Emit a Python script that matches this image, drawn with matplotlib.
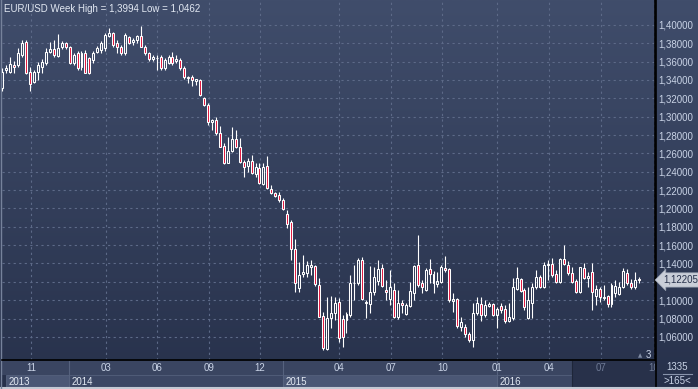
import numpy as np
import matplotlib
matplotlib.use("Agg")
import matplotlib.pyplot as plt
import matplotlib.patches as patches
import matplotlib.transforms as mtransforms
from matplotlib.lines import Line2D

plt.rcParams['font.family'] = ['Liberation Sans', 'DejaVu Sans']

# --- weekly EUR/USD candles ---
opens = [
    1.3313, 1.3509, 1.3490, 1.3564, 1.3564, 1.3673, 1.3817, 1.3490, 1.3381, 1.3490,
    1.3545, 1.3582, 1.3709, 1.3735, 1.3662, 1.3756, 1.3800, 1.3756, 1.3589, 1.3691,
    1.3538, 1.3691, 1.3637, 1.3618, 1.3709, 1.3727, 1.3746, 1.3880, 1.3909, 1.3800,
    1.3756, 1.3691, 1.3865, 1.3817, 1.3836, 1.3880, 1.3763, 1.3691, 1.3626, 1.3640,
    1.3654, 1.3528, 1.3589, 1.3654, 1.3610, 1.3618, 1.3528, 1.3419, 1.3429, 1.3392,
    1.3400, 1.3201, 1.3128, 1.2945, 1.2964, 1.2819, 1.2681, 1.2499, 1.2626, 1.2754,
    1.2666, 1.2506, 1.2463, 1.2520, 1.2372, 1.2444, 1.2266, 1.2463, 1.2209, 1.2165,
    1.2147, 1.2092, 1.1939, 1.1856, 1.1555, 1.1130, 1.1285, 1.1293, 1.1365, 1.1373,
    1.1165, 1.0828, 1.0465, 1.0803, 1.0857, 1.0984, 1.0792, 1.0784, 1.0839, 1.1184,
    1.1184, 1.1438, 1.0972, 1.0959, 1.1092, 1.1212, 1.1348, 1.1111, 1.1010, 1.1111,
    1.0820, 1.0966, 1.0850, 1.0937, 1.1082, 1.1384, 1.1184, 1.1111, 1.1337, 1.1285,
    1.1176, 1.1201, 1.1348, 1.1337, 1.0994, 1.1010, 1.0711, 1.0711, 1.0631, 1.0566,
    1.0857, 1.0958, 1.0839, 1.0937, 1.0958, 1.0839, 1.0937, 1.0901, 1.0776, 1.0803,
    1.1119, 1.1228, 1.1111, 1.0803, 1.0973, 1.1147, 1.1256, 1.1140, 1.1384, 1.1394,
    1.1285, 1.1201, 1.1446, 1.1384, 1.1300, 1.1212, 1.1092, 1.1348, 1.1239, 1.1310,
    1.1046, 1.1119, 1.1021, 1.1046, 1.0959, 1.1075, 1.1067, 1.1140, 1.1300, 1.1191,
    1.1140, 1.1228]
highs = [
    1.3534, 1.3564, 1.3647, 1.3610, 1.3746, 1.3836, 1.3836, 1.3545, 1.3509, 1.3600,
    1.3626, 1.3746, 1.3817, 1.3836, 1.3901, 1.3828, 1.3817, 1.3771, 1.3698, 1.3719,
    1.3719, 1.3727, 1.3654, 1.3719, 1.3771, 1.3828, 1.3909, 1.3964, 1.3927, 1.3836,
    1.3782, 1.3909, 1.3880, 1.3855, 1.3891, 1.3994, 1.3782, 1.3709, 1.3673, 1.3673,
    1.3673, 1.3640, 1.3673, 1.3709, 1.3673, 1.3640, 1.3553, 1.3444, 1.3455, 1.3411,
    1.3408, 1.3218, 1.3146, 1.2972, 1.3000, 1.2899, 1.2710, 1.2782, 1.2884, 1.2855,
    1.2765, 1.2528, 1.2547, 1.2583, 1.2499, 1.2499, 1.2499, 1.2572, 1.2256, 1.2183,
    1.2183, 1.2110, 1.1983, 1.1874, 1.1664, 1.1420, 1.1493, 1.1430, 1.1438, 1.1384,
    1.1239, 1.0875, 1.1038, 1.1046, 1.1038, 1.1021, 1.0839, 1.0875, 1.1275, 1.1384,
    1.1456, 1.1474, 1.1002, 1.1373, 1.1365, 1.1438, 1.1394, 1.1221, 1.1329, 1.1184,
    1.1111, 1.1002, 1.0966, 1.1201, 1.1384, 1.1711, 1.1221, 1.1348, 1.1446, 1.1321,
    1.1310, 1.1384, 1.1482, 1.1348, 1.1075, 1.1021, 1.0813, 1.0740, 1.0656, 1.0966,
    1.1038, 1.1038, 1.1002, 1.0984, 1.0973, 1.0929, 1.0966, 1.0948, 1.0966, 1.1239,
    1.1365, 1.1239, 1.1130, 1.1147, 1.1184, 1.1329, 1.1275, 1.1420, 1.1438, 1.1456,
    1.1329, 1.1456, 1.1602, 1.1430, 1.1365, 1.1228, 1.1365, 1.1409, 1.1310, 1.1409,
    1.1165, 1.1147, 1.1165, 1.1057, 1.1184, 1.1221, 1.1201, 1.1348, 1.1337, 1.1228,
    1.1310, 1.1256]
lows = [
    1.3280, 1.3473, 1.3473, 1.3480, 1.3545, 1.3654, 1.3465, 1.3283, 1.3364, 1.3400,
    1.3473, 1.3564, 1.3691, 1.3654, 1.3654, 1.3735, 1.3735, 1.3574, 1.3564, 1.3509,
    1.3509, 1.3473, 1.3465, 1.3582, 1.3691, 1.3691, 1.3719, 1.3872, 1.3763, 1.3691,
    1.3673, 1.3673, 1.3792, 1.3782, 1.3800, 1.3756, 1.3673, 1.3610, 1.3610, 1.3509,
    1.3509, 1.3509, 1.3574, 1.3564, 1.3582, 1.3509, 1.3408, 1.3364, 1.3335, 1.3346,
    1.3226, 1.3117, 1.2910, 1.2855, 1.2800, 1.2666, 1.2484, 1.2492, 1.2619, 1.2656,
    1.2499, 1.2346, 1.2400, 1.2375, 1.2346, 1.2266, 1.2256, 1.2209, 1.2157, 1.2121,
    1.2074, 1.1983, 1.1784, 1.1438, 1.1092, 1.1092, 1.1256, 1.1256, 1.1275, 1.1155,
    1.0813, 1.0462, 1.0462, 1.0694, 1.0784, 1.0548, 1.0493, 1.0639, 1.0820, 1.1002,
    1.1165, 1.1002, 1.0803, 1.0857, 1.1057, 1.1165, 1.1140, 1.1002, 1.0948, 1.0803,
    1.0792, 1.0857, 1.0839, 1.0929, 1.1002, 1.1140, 1.1082, 1.1103, 1.1184, 1.1082,
    1.1147, 1.1191, 1.1310, 1.0984, 1.0875, 1.0694, 1.0667, 1.0602, 1.0548, 1.0493,
    1.0839, 1.0776, 1.0820, 1.0922, 1.0828, 1.0694, 1.0857, 1.0755, 1.0765, 1.0784,
    1.1111, 1.1089, 1.0893, 1.0792, 1.0803, 1.1119, 1.1130, 1.1130, 1.1221, 1.1256,
    1.1191, 1.1191, 1.1384, 1.1275, 1.1184, 1.1082, 1.1082, 1.1228, 1.1147, 1.0893,
    1.0948, 1.0984, 1.1002, 1.0929, 1.0929, 1.1038, 1.1057, 1.1130, 1.1165, 1.1119,
    1.1119, 1.1191]
closes = [
    1.3487, 1.3528, 1.3571, 1.3538, 1.3698, 1.3800, 1.3480, 1.3356, 1.3490, 1.3564,
    1.3600, 1.3709, 1.3735, 1.3673, 1.3746, 1.3800, 1.3756, 1.3589, 1.3673, 1.3528,
    1.3691, 1.3480, 1.3480, 1.3698, 1.3746, 1.3800, 1.3891, 1.3909, 1.3782, 1.3756,
    1.3691, 1.3891, 1.3807, 1.3836, 1.3880, 1.3763, 1.3691, 1.3626, 1.3647, 1.3636,
    1.3528, 1.3618, 1.3647, 1.3582, 1.3626, 1.3528, 1.3429, 1.3436, 1.3400, 1.3408,
    1.3237, 1.3128, 1.2945, 1.2964, 1.2819, 1.2673, 1.2499, 1.2626, 1.2754, 1.2673,
    1.2509, 1.2448, 1.2517, 1.2383, 1.2455, 1.2274, 1.2455, 1.2219, 1.2172, 1.2136,
    1.2092, 1.1990, 1.1830, 1.1555, 1.1184, 1.1275, 1.1307, 1.1384, 1.1384, 1.1176,
    1.0820, 1.0476, 1.0803, 1.0864, 1.0966, 1.0585, 1.0602, 1.0849, 1.1184, 1.1190,
    1.1438, 1.1010, 1.0983, 1.1092, 1.1249, 1.1337, 1.1155, 1.1092, 1.1147, 1.0813,
    1.0966, 1.0948, 1.0948, 1.1103, 1.1373, 1.1165, 1.1140, 1.1329, 1.1285, 1.1184,
    1.1212, 1.1365, 1.1329, 1.1002, 1.1010, 1.0719, 1.0762, 1.0631, 1.0566, 1.0864,
    1.0966, 1.0839, 1.0948, 1.0958, 1.0839, 1.0901, 1.0893, 1.0776, 1.0820, 1.1140,
    1.1239, 1.1103, 1.0923, 1.0997, 1.1140, 1.1256, 1.1147, 1.1384, 1.1394, 1.1275,
    1.1201, 1.1446, 1.1394, 1.1293, 1.1201, 1.1092, 1.1359, 1.1239, 1.1264, 1.1092,
    1.1119, 1.1032, 1.1038, 1.0959, 1.1165, 1.1155, 1.1147, 1.1321, 1.1184, 1.1140,
    1.1221, 1.12205]

# x axis: candle index; month / year starts expressed as candle positions
month_labels = ['11', '03', '06', '09', '12', '04', '07', '10', '01', '04', '07', '10']
month_pos = [7.2, 26.2, 39.1, 52.2, 65.1, 85.1, 98.3, 111.2, 125.1, 138.2, 151.3, 164.7]
year_labels = ['2013', '2014', '2015', '2016']
year_start = [0.9, 16.9, 70.9, 125.0]
price_ticks = [1.06, 1.08, 1.10, 1.12, 1.14, 1.16, 1.18, 1.20, 1.22, 1.24, 1.26,
               1.28, 1.30, 1.32, 1.34, 1.36, 1.38, 1.40]

W, H = 698, 389
fig = plt.figure(figsize=(W / 100, H / 100), dpi=100)

def fx(px):
    return px / W

def fy(py):
    return 1 - py / H

# gradient background for whole chart
bg = fig.add_axes([0, 0, 1, 1], zorder=0)
top = np.array([0x40, 0x4d, 0x6b]) / 255
bot = np.array([0x27, 0x31, 0x4b]) / 255
t = np.linspace(0, 1, 256)[:, None]
grad = (top[None, :] * (1 - t) + bot[None, :] * t)[:, None, :]
bg.imshow(grad, aspect='auto', extent=[0, 1, 0, 1])
bg.set_xlim(0, 1)
bg.set_ylim(0, 1)
bg.axis('off')

# main price panel
ax = fig.add_axes([fx(2), fy(360), fx(653), 360 / H], zorder=2)
ax.patch.set_alpha(0)
x = np.arange(len(closes))
o = np.array(opens)
c = np.array(closes)
hi = np.array(highs)
lo = np.array(lows)
body_top = np.maximum(o, c)
body_bot = np.minimum(o, c)
up = c >= o

ax.vlines(x, body_top, hi, color='white', linewidth=0.8, zorder=3)
ax.vlines(x, lo, body_bot, color='white', linewidth=0.8, zorder=3)
ax.bar(x, np.maximum(body_top - body_bot, 0.0003), bottom=body_bot, width=0.5,
       color=['none' if u else '#e0143c' for u in up],
       edgecolor='white', linewidth=0.75, zorder=4)

ax.set_xlim(-0.1, 165.0)
ax.set_ylim(1.4272 - 360 * 0.00109, 1.4272)

ax.set_xticks(month_pos)
ax.set_yticks(price_ticks)
ax.set_yticklabels(['' if abs(v - 1.12) < 1e-9 else f"{v:.5f}".replace('.', ',')
                    for v in price_ticks])
ax.yaxis.tick_right()
ax.tick_params(axis='y', length=0, pad=2.5, labelsize=7, labelcolor='#c9d3e6')
ax.tick_params(axis='x', length=0, labelbottom=False)
ax.grid(True, color='#5d6a88', linestyle=(0, (2, 3)), linewidth=0.8)
ax.set_axisbelow(True)
for s in ['top', 'left']:
    ax.spines[s].set_visible(False)
ax.spines['right'].set_color('black')
ax.spines['right'].set_linewidth(1.2)
ax.spines['bottom'].set_color('black')
ax.spines['bottom'].set_linewidth(1.2)

# last price tag
blend = mtransforms.blended_transform_factory(ax.transAxes, ax.transData)
ax.text(1.012, closes[-1], "1,12205", transform=blend, ha='left', va='center',
        fontsize=7, color='#27314b', clip_on=False, zorder=6,
        bbox=dict(boxstyle='larrow,pad=0.22', fc='#c9ced8', ec='#9aa3b3', lw=0.5))

# bottom time panel
pan = fig.add_axes([fx(2), fy(388), fx(653), 27 / H], zorder=1)
pan.set_xlim(ax.get_xlim())
pan.set_ylim(0, 2)
pan.axis('off')
dark_from = 144.0
pan.add_patch(patches.Rectangle((-1, 1), dark_from + 1, 1, fc='#3a4561', ec='none'))
pan.add_patch(patches.Rectangle((dark_from, 0), 30, 2, fc='#28314a', ec='none'))
cell_fc = ['#4b5775', '#3c4764', '#4b5775', '#3c4764']
ends = year_start[1:] + [dark_from]
for lab, s, e, fc in zip(year_labels, year_start, ends, cell_fc):
    pan.add_patch(patches.Rectangle((s, 0.05), e - s, 0.9, fc=fc, ec='#56627e', lw=0.6))
    pan.text(s + 0.6, 0.48, lab, fontsize=7, color='#e2e8f2', va='center', ha='left')
for s in year_start[1:]:
    pan.plot([s, s], [0, 2], color='#56627e', lw=0.8)
pan.plot([dark_from, dark_from], [0, 2], color='#1e2639', lw=0.8)
for lab, p in zip(month_labels, month_pos):
    col = '#6e7a95' if p > dark_from else '#c9d3e6'
    pan.text(p, 1.45, lab, fontsize=7, color=col, ha='center', va='center', clip_on=True)

# right bottom panel
fig.text(fx(677), fy(367), '1335', fontsize=7, color='#c9d3e6', ha='center', va='center')
fig.add_artist(Line2D([fx(663), fx(692)], [fy(374), fy(374)], color='#8893aa', lw=0.8))
fig.text(fx(677), fy(381), '>165<', fontsize=7, color='#c9d3e6', ha='center', va='center')

# marker count and title
fig.text(fx(640), fy(356), '\u25b2', fontsize=4, color='#7f8ba3', ha='center', va='center',
         family='DejaVu Sans')
fig.text(fx(648), fy(355), '3', fontsize=7, color='#c9d3e6', ha='center', va='center')
fig.text(fx(4), fy(9), 'EUR/USD Week High = 1,3994 Low = 1,0462', fontsize=7,
         color='#e2e8f2', ha='left', va='center')

# frame lines
fig.add_artist(Line2D([fx(655.5), fx(655.5)], [0, 1], color='black', lw=1.2))
fig.add_artist(Line2D([0, 1], [fy(388), fy(388)], color='#c3c9d4', lw=1.5))
fig.add_artist(Line2D([fx(0.5), fx(0.5)], [0, 1], color='#76829b', lw=1.0))

fig.savefig('out.png', dpi=100)
